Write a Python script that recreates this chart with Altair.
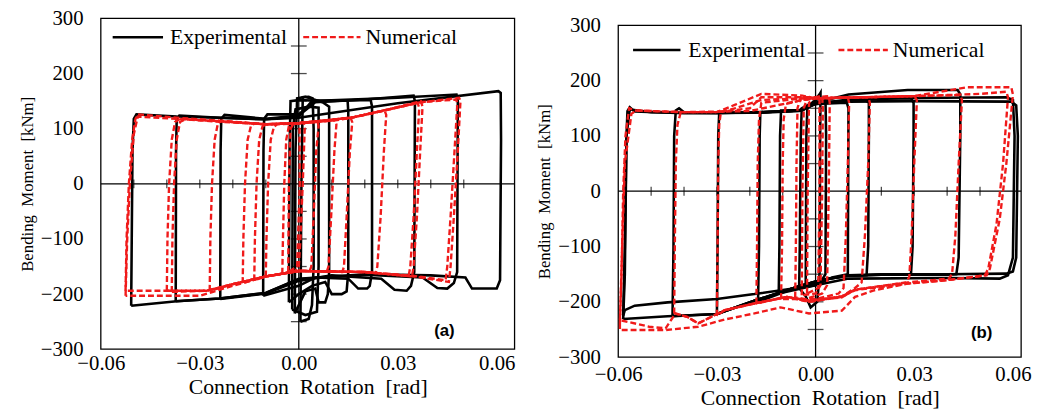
import altair as alt
import pandas as pd

# ---------------- data ----------------
x_ticks = [-0.06, -0.03, 0.0, 0.03, 0.06]
y_ticks = [-300, -200, -100, 0, 100, 200, 300]
zero_line_xticks = [-0.05, -0.04, -0.03, -0.02, -0.01, 0.01, 0.02, 0.03, 0.04, 0.05]
zero_line_yticks = [-250, -200, -150, -100, -50, 50, 100, 150, 200, 250]
legend_labels = ["Experimental", "Numerical"]
panel_tags = ["(a)", "(b)"]

# Panel (a) experimental loops (rotation [rad], moment [kNm])
a_exp_1 = [(-0.0508,-221),(-0.0504,60),(-0.0500,118),(-0.0492,126),(-0.037,122),(-0.024,120),(-0.010,117),(0.0,120),(0.030,146),(0.0605,168),(0.0612,165),(0.0613,80),(0.0610,-175),(0.0600,-190),(0.0525,-190),(0.0505,-170),(0.040,-166),(0.020,-164),(0.0,-172),(-0.010,-198),(-0.024,-208),(-0.037,-213),(-0.0508,-221)]
a_exp_2 = [(-0.0373,-213),(-0.0372,60),(-0.0370,118),(-0.0362,124),(-0.024,120),(-0.010,117),(0.0,122),(0.004,150),(0.030,156),(0.0478,162),(0.0482,150),(0.0480,-160),(0.0470,-180),(0.0450,-190),(0.0420,-189),(0.0375,-170),(0.020,-165),(0.0,-173),(-0.010,-198),(-0.024,-208),(-0.0373,-213)]
a_exp_3 = [(-0.0238,-209),(-0.0237,60),(-0.0235,118),(-0.0225,125),(-0.010,118),(0.0,124),(0.005,148),(0.020,153),(0.0348,160),(0.0352,150),(0.0350,-160),(0.0340,-185),(0.0327,-194),(0.0290,-192),(0.0250,-172),(0.010,-166),(0.0,-176),(-0.010,-199),(-0.0238,-209)]
a_exp_4 = [(-0.0108,-203),(-0.0107,60),(-0.0105,118),(-0.0095,126),(0.0,126),(0.005,150),(0.0218,152),(0.0222,140),(0.0222,-160),(0.0215,-185),(0.0207,-190),(0.0180,-190),(0.0150,-172),(0.005,-170),(0.0,-185),(-0.0108,-203)]
a_exp_5 = [(-0.0030,-215),(-0.0028,60),(-0.0025,150),(0.0,152),(0.008,150),(0.0148,151),(0.0150,130),(0.0150,-160),(0.0145,-195),(0.0130,-200),(0.010,-200),(0.008,-178),(0.004,-185),(0.0,-200),(-0.0030,-215)]
a_exp_6 = [(-0.0012,-235),(-0.0010,60),(-0.0005,155),(0.002,158),(0.0072,148),(0.0092,140),(0.0092,-160),(0.0088,-200),(0.0080,-215),(0.0060,-215),(0.005,-190),(0.002,-195),(0.0,-220),(-0.0012,-235)]
a_exp_7 = [(0.0005,-250),(0.0008,0),(0.0012,157),(0.0030,158),(0.0042,155),(0.0045,100),(0.0045,-150),(0.0040,-220),(0.0030,-245),(0.0015,-248),(0.0005,-250)]
a_exp_8 = [(-0.0020,-228),(-0.0018,100),(-0.0010,135),(0.003,140),(0.006,138),(0.006,-150),(0.0055,-232),(0.002,-238),(-0.0020,-228)]

# Panel (a) numerical loops
a_num_1 = [(-0.0525,-194),(-0.0522,-100),(-0.0515,0),(-0.0505,80),(-0.0495,118),(-0.0488,126),(-0.037,120),(-0.025,115),(-0.010,108),(0.0,110),(0.011,115),(0.016,120),(0.026,133),(0.037,148),(0.0486,156),(0.0490,150),(0.0482,60),(0.0470,-60),(0.0460,-150),(0.0455,-178),(0.035,-168),(0.020,-160),(0.0,-158),(-0.010,-168),(-0.020,-182),(-0.028,-194),(-0.0525,-194)]
a_num_2 = [(-0.0525,-203),(-0.0520,-100),(-0.0512,0),(-0.0500,90),(-0.0488,122),(-0.037,118),(-0.025,113),(-0.010,108),(0.0,110),(0.016,120),(0.037,148),(0.0478,153),(0.0480,140),(0.0472,60),(0.0460,-60),(0.0450,-150),(0.0445,-175),(0.035,-167),(0.020,-160),(0.0,-158),(-0.010,-168),(-0.020,-185),(-0.030,-203),(-0.0525,-203)]
a_num_3 = [(-0.0400,-194),(-0.0398,-100),(-0.0393,0),(-0.0385,80),(-0.0375,112),(-0.0360,118),(-0.025,114),(-0.010,108),(0.0,110),(0.016,120),(0.026,133),(0.0370,150),(0.0375,140),(0.0368,60),(0.0358,-60),(0.0348,-150),(0.0343,-168),(0.020,-160),(0.0,-158),(-0.010,-168),(-0.020,-182),(-0.028,-194),(-0.0400,-194)]
a_num_4 = [(-0.0385,-196),(-0.0383,-100),(-0.0378,0),(-0.0370,80),(-0.0360,112),(-0.0345,117),(-0.025,114),(-0.010,108),(0.0,110),(0.016,120),(0.0360,147),(0.0365,138),(0.0358,60),(0.0348,-60),(0.0338,-150),(0.0333,-167),(0.020,-160),(0.0,-158),(-0.010,-168),(-0.020,-182),(-0.028,-194),(-0.0385,-196)]
a_num_5 = [(-0.0270,-194),(-0.0268,-100),(-0.0263,0),(-0.0255,80),(-0.0245,110),(-0.0235,114),(-0.010,108),(0.0,110),(0.016,120),(0.0260,133),(0.0265,125),(0.0258,60),(0.0248,-60),(0.0238,-150),(0.0233,-162),(0.020,-160),(0.0,-158),(-0.010,-168),(-0.020,-182),(-0.0270,-194)]
a_num_6 = [(-0.0170,-180),(-0.0168,-100),(-0.0163,0),(-0.0155,80),(-0.0145,105),(-0.0135,109),(-0.010,108),(0.0,110),(0.0157,120),(0.0162,112),(0.0155,60),(0.0145,-60),(0.0137,-150),(0.0132,-160),(0.0,-158),(-0.010,-168),(-0.0170,-180)]
a_num_7 = [(-0.0135,-175),(-0.0133,-100),(-0.0128,0),(-0.0120,80),(-0.0110,104),(-0.0100,108),(0.0,110),(0.0110,115),(0.0114,108),(0.0108,60),(0.0098,-60),(0.0090,-150),(0.0085,-159),(0.0,-158),(-0.010,-168),(-0.0135,-175)]
a_num_8 = [(-0.0100,-168),(-0.0098,-100),(-0.0093,0),(-0.0085,80),(-0.0075,104),(-0.0065,108),(0.0,110),(0.0057,112),(0.0060,105),(0.0053,60),(0.0045,-60),(0.0038,-150),(0.0033,-158),(0.0,-158),(-0.0100,-168)]
a_num_9 = [(-0.0050,-163),(-0.0048,-100),(-0.0044,0),(-0.0038,80),(-0.0030,105),(-0.0020,109),(0.0015,111),(0.0018,100),(0.0012,0),(0.0005,-100),(0.0,-150),(-0.0010,-158),(-0.0050,-163)]
a_num_10 = [(-0.0032,-160),(-0.0030,0),(-0.0025,100),(-0.0015,110),(0.0002,110),(0.0003,0),(-0.0005,-150),(-0.0032,-160)]

# Panel (b) experimental loops
b_exp_1 = [(-0.0585,-231),(-0.0580,-150),(-0.0575,100),(-0.0572,145),(-0.0565,152),(-0.055,144),(-0.040,141),(-0.020,142),(-0.005,146),(0.0,160),(0.010,162),(0.030,163),(0.0595,162),(0.0610,155),(0.0615,100),(0.0610,-120),(0.0600,-145),(0.0580,-149),(0.040,-150),(0.020,-150),(0.010,-152),(0.002,-160),(-0.005,-172),(-0.0186,-198),(-0.030,-222),(-0.045,-226),(-0.0585,-231)]
b_exp_2 = [(-0.0186,-186),(-0.030,-195),(-0.045,-201),(-0.055,-207),(-0.0580,-215),(-0.0585,-225),(-0.0580,-100),(-0.0575,100),(-0.0565,148),(-0.050,143),(-0.030,141),(-0.005,145),(0.0,158),(0.020,168),(0.058,170),(0.0600,165),(0.0605,100),(0.0600,-120),(0.0585,-152),(0.0560,-158),(0.040,-157),(0.010,-158),(0.0,-170),(-0.0186,-186)]
b_exp_3 = [(-0.0435,-226),(-0.0432,-100),(-0.0430,100),(-0.0425,146),(-0.0415,150),(-0.040,143),(-0.020,142),(-0.005,146),(0.0,160),(0.010,175),(0.028,183),(0.0432,183),(0.0440,175),(0.0440,100),(0.0435,-120),(0.0428,-150),(0.040,-151),(0.020,-151),(0.010,-153),(0.002,-160),(-0.005,-172),(-0.0186,-198),(-0.030,-222),(-0.0435,-226)]
b_exp_4 = [(-0.0300,-222),(-0.0298,-100),(-0.0296,100),(-0.0293,142),(-0.020,142),(-0.005,146),(0.0,158),(0.010,166),(0.0290,168),(0.0298,160),(0.0298,100),(0.0295,-100),(0.0290,-150),(0.020,-151),(0.010,-153),(0.002,-160),(-0.005,-172),(-0.0186,-198),(-0.0300,-222)]
b_exp_5 = [(-0.0175,-200),(-0.0172,-100),(-0.0170,100),(-0.0168,142),(-0.010,144),(-0.004,146),(0.0,160),(0.0150,165),(0.0162,160),(0.0162,100),(0.0160,-100),(0.0155,-152),(0.010,-153),(0.002,-160),(-0.005,-172),(-0.0175,-200)]
b_exp_6 = [(-0.0112,-185),(-0.0110,-100),(-0.0108,100),(-0.0105,146),(-0.004,147),(0.0,158),(0.0095,160),(0.0100,150),(0.0098,-150),(0.005,-156),(0.0,-170),(-0.0112,-185)]
b_exp_7 = [(-0.0050,-175),(-0.0048,-100),(-0.0045,100),(-0.0042,150),(-0.001,160),(0.0012,175),(0.0015,178),(0.0014,100),(0.0012,-150),(0.0005,-200),(-0.0015,-210),(-0.0030,-190),(-0.0050,-175)]
b_exp_8 = [(-0.0030,-170),(-0.0028,100),(-0.0025,150),(0.0,165),(0.0030,170),(0.0032,100),(0.0030,-150),(0.0015,-165),(-0.0030,-170)]

# Panel (b) numerical loops
b_num_1 = [(-0.0595,-240),(-0.0590,-150),(-0.0585,0),(-0.0578,100),(-0.0567,150),(-0.055,146),(-0.040,143),(-0.030,143),(-0.0246,156),(-0.0165,176),(-0.004,173),(0.0,168),(0.030,172),(0.046,188),(0.0595,188),(0.0600,175),(0.0580,50),(0.0560,-50),(0.0530,-140),(0.0520,-152),(0.041,-160),(0.028,-167),(0.018,-179),(0.012,-191),(0.008,-216),(-0.002,-221),(-0.0106,-210),(-0.0186,-221),(-0.0276,-232),(-0.0357,-245),(-0.0456,-251),(-0.0595,-251),(-0.0595,-240)]
b_num_2 = [(-0.0595,-233),(-0.0588,-100),(-0.0580,50),(-0.0560,140),(-0.0545,146),(-0.040,143),(-0.020,145),(-0.004,165),(0.0,168),(0.030,172),(0.050,176),(0.0580,180),(0.0585,170),(0.0570,50),(0.0550,-60),(0.0525,-140),(0.0515,-152),(0.040,-161),(0.028,-167),(0.012,-179),(0.008,-191),(-0.002,-200),(-0.0087,-191),(-0.0186,-203),(-0.0276,-215),(-0.0357,-239),(-0.0391,-227),(-0.0426,-221),(-0.0456,-248),(-0.0506,-245),(-0.0595,-233)]
b_num_3 = [(-0.0430,-221),(-0.0428,-100),(-0.0425,50),(-0.0420,120),(-0.0410,143),(-0.030,143),(-0.020,150),(-0.0165,170),(-0.004,170),(0.0,168),(0.030,172),(0.0440,174),(0.0445,165),(0.0435,50),(0.0425,-80),(0.0415,-150),(0.0405,-158),(0.028,-165),(0.012,-178),(0.008,-190),(-0.002,-200),(-0.0087,-191),(-0.0186,-203),(-0.0276,-215),(-0.0357,-239),(-0.0391,-227),(-0.0430,-221)]
b_num_4 = [(-0.0300,-225),(-0.0298,-100),(-0.0296,50),(-0.0293,120),(-0.0288,143),(-0.0246,150),(-0.0165,165),(-0.004,168),(0.0,168),(0.0300,172),(0.0308,165),(0.0300,50),(0.0292,-80),(0.0285,-155),(0.0275,-165),(0.012,-178),(0.008,-192),(-0.002,-198),(-0.0087,-191),(-0.0186,-203),(-0.0276,-215),(-0.0300,-225)]
b_num_5 = [(-0.0180,-203),(-0.0178,-100),(-0.0176,50),(-0.0172,130),(-0.0165,160),(-0.004,168),(0.0,168),(0.0160,170),(0.0165,160),(0.0160,50),(0.0150,-80),(0.0140,-165),(0.0120,-175),(0.008,-190),(-0.002,-198),(-0.0087,-191),(-0.0180,-203)]
b_num_6 = [(-0.0105,-195),(-0.0102,-100),(-0.0100,50),(-0.0097,130),(-0.0090,158),(-0.004,165),(0.0,168),(0.0098,170),(0.0102,160),(0.0098,50),(0.0092,-80),(0.0085,-175),(0.0070,-185),(0.0,-195),(-0.0105,-195)]
b_num_7 = [(-0.0062,-192),(-0.0060,-100),(-0.0058,50),(-0.0055,150),(-0.0045,170),(0.0,170),(0.0040,172),(0.0043,160),(0.0040,0),(0.0035,-170),(0.0020,-185),(-0.0030,-195),(-0.0062,-192)]
b_num_8 = [(-0.0042,-188),(-0.0040,0),(-0.0036,150),(-0.0025,168),(0.0020,172),(0.0022,150),(0.0020,0),(0.0015,-170),(0.0,-185),(-0.0042,-188)]
b_num_9 = [(-0.0026,-185),(-0.0024,0),(-0.0020,160),(0.0,170),(0.0012,170),(0.0012,0),(0.0008,-175),(-0.0026,-185)]

a_exp_loops = [a_exp_1, a_exp_2, a_exp_3, a_exp_4, a_exp_5, a_exp_6, a_exp_7, a_exp_8]
a_num_loops = [a_num_1, a_num_2, a_num_3, a_num_4, a_num_5, a_num_6, a_num_7, a_num_8, a_num_9, a_num_10]
b_exp_loops = [b_exp_1, b_exp_2, b_exp_3, b_exp_4, b_exp_5, b_exp_6, b_exp_7, b_exp_8]
b_num_loops = [b_num_1, b_num_2, b_num_3, b_num_4, b_num_5, b_num_6, b_num_7, b_num_8, b_num_9]


def frame(loops, tag):
    rows = []
    for k, pts in enumerate(loops):
        for i, (x, y) in enumerate(pts):
            rows.append({"loop": f"{tag}{k}", "i": i, "x": x, "y": y})
    return pd.DataFrame(rows)


SERIF = "Liberation Serif, Times New Roman, serif"
RED = "#f01a1a"


def panel(exp_loops, num_loops, x_max, w, h, top, tag, tag_pos, leg, lab_pad, tit_pad):
    xs = alt.Scale(domain=[-0.06, x_max], nice=False, zero=False)
    ys = alt.Scale(domain=[-300, 300], range=[h, top], nice=False, zero=False)
    xaxis = alt.Axis(values=x_ticks, format=".2f", title="Connection\u00a0 Rotation\u00a0 [rad]",
                     grid=False, ticks=False, domain=False, labelFlush=False,
                     labelFont=SERIF, labelFontSize=21, titleFont=SERIF, titleFontSize=22,
                     labelColor="black", titleColor="black", titleFontWeight="normal",
                     labelPadding=lab_pad, titlePadding=tit_pad)
    yaxis = alt.Axis(values=y_ticks, format="d", title="Bending\u00a0 Moment\u00a0 [kNm]",
                     grid=False, ticks=False, domain=False, labelFlush=False,
                     labelFont=SERIF, labelFontSize=21, titleFont=SERIF, titleFontSize=17,
                     labelColor="black", titleColor="black", titleFontWeight="normal",
                     labelPadding=18, titlePadding=4)

    exp_df = frame(exp_loops, "e")
    num_df = frame(num_loops, "n")

    box = alt.Chart().mark_rect(filled=False, stroke="black", strokeWidth=1.3).encode(
        x=alt.value(0), x2=alt.value(w), y=alt.value(top), y2=alt.value(h))

    exp = alt.Chart(exp_df).mark_line(color="black", strokeWidth=2.6, clip=True).encode(
        x=alt.X("x:Q", scale=xs, axis=xaxis),
        y=alt.Y("y:Q", scale=ys, axis=yaxis),
        detail="loop:N", order="i:Q")
    num = alt.Chart(num_df).mark_line(color=RED, strokeWidth=2.4, strokeDash=[6, 3], clip=True).encode(
        x=alt.X("x:Q", scale=xs), y=alt.Y("y:Q", scale=ys), detail="loop:N", order="i:Q")

    vzero = alt.Chart().mark_rule(color="black", strokeWidth=1.3).encode(
        x=alt.datum(0, scale=xs), y=alt.datum(-300, scale=ys), y2=alt.datum(300))
    hzero = alt.Chart().mark_rule(color="black", strokeWidth=1.3).encode(y=alt.datum(0, scale=ys))
    xt = alt.Chart(pd.DataFrame({"x": zero_line_xticks, "y": 0})).mark_tick(
        color="black", orient="vertical", size=9, thickness=1.3).encode(
        x=alt.X("x:Q", scale=xs), y=alt.Y("y:Q", scale=ys))
    yt = alt.Chart(pd.DataFrame({"x": 0.0, "y": zero_line_yticks})).mark_tick(
        color="black", orient="horizontal", size=16, thickness=1.3).encode(
        x=alt.X("x:Q", scale=xs), y=alt.Y("y:Q", scale=ys))

    lx1, lx2, tx1, dx1, dx2, tx2, ly = leg
    leg_exp_line = alt.Chart().mark_rule(color="black", strokeWidth=2.6).encode(
        x=alt.value(lx1), x2=alt.value(lx2), y=alt.value(ly))
    leg_exp_txt = alt.Chart().mark_text(text=legend_labels[0], font=SERIF, fontSize=22, align="left",
                                        baseline="middle", color="black").encode(
        x=alt.value(tx1), y=alt.value(ly))
    leg_num_line = alt.Chart().mark_rule(color=RED, strokeWidth=2.4, strokeDash=[6, 3]).encode(
        x=alt.value(dx1), x2=alt.value(dx2), y=alt.value(ly))
    leg_num_txt = alt.Chart().mark_text(text=legend_labels[1], font=SERIF, fontSize=22, align="left",
                                        baseline="middle", color="black").encode(
        x=alt.value(tx2), y=alt.value(ly))
    tag_txt = alt.Chart().mark_text(text=tag, font="Liberation Sans, Arial, sans-serif", fontWeight="bold",
                                    fontSize=17, align="center", baseline="middle", color="black").encode(
        x=alt.value(tag_pos[0]), y=alt.value(tag_pos[1]))

    return alt.layer(box, vzero, hzero, xt, yt, exp, num, leg_exp_line, leg_exp_txt, leg_num_line,
                     leg_num_txt, tag_txt).properties(width=w, height=h)


pa = panel(a_exp_loops, a_num_loops, 0.0654, 419, 335, 0, panel_tags[0], (348, 317),
           (12, 63, 70, 205, 263, 268, 19), 4, 3)
pb = panel(b_exp_loops, b_num_loops, 0.0625, 408, 343, 7, panel_tags[1], (368, 319),
           (15, 63, 71, 223, 273, 278, 32), 7, 3)

chart = alt.hconcat(pa, pb, spacing=20).configure_view(
    strokeWidth=0
).properties(
    padding={"left": 10, "top": -3, "right": 0, "bottom": 0}, background="white"
)

chart.save("out.html", embed_options={"renderer": "svg", "actions": False})
